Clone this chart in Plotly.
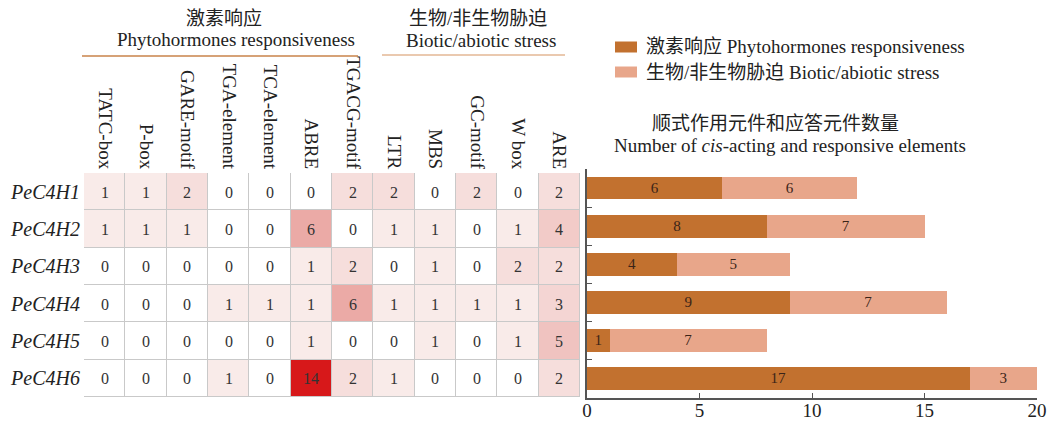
import plotly.graph_objects as go

# cis-acting elements found in the promoters of each PeC4H gene
elements = ["TATC-box", "P-box", "GARE-motif", "TGA-element", "TCA-element", "ABRE",
            "TGACG-motif", "LTR", "MBS", "GC-motif", "W box", "ARE"]
genes = ["PeC4H1", "PeC4H2", "PeC4H3", "PeC4H4", "PeC4H5", "PeC4H6"]

counts_h1 = [1, 1, 2, 0, 0, 0, 2, 2, 0, 2, 0, 2]
counts_h2 = [1, 1, 1, 0, 0, 6, 0, 1, 1, 0, 1, 4]
counts_h3 = [0, 0, 0, 0, 0, 1, 2, 0, 1, 0, 2, 2]
counts_h4 = [0, 0, 0, 1, 1, 1, 6, 1, 1, 1, 1, 3]
counts_h5 = [0, 0, 0, 0, 0, 1, 0, 0, 1, 0, 1, 5]
counts_h6 = [0, 0, 0, 1, 0, 14, 2, 1, 0, 0, 0, 2]

# totals per gene for the stacked bars
hormone_totals = [6, 8, 4, 9, 1, 17]
stress_totals = [6, 7, 5, 7, 7, 3]

W, H = 1053, 422
FONT = "Liberation Serif, 'Noto Sans CJK SC', serif"
DARK = "#c2712f"
LIGHT = "#e8a68a"
TXT = "#222222"


def px_x(v):
    return v / W


def px_y(v):
    return 1 - v / H


matrix = [counts_h1, counts_h2, counts_h3, counts_h4, counts_h5, counts_h6]

# pale pink for low counts, deep red for the maximum
heat_scale = [
    [0.0, "#ffffff"],
    [1 / 14, "#f9ebe9"],
    [2 / 14, "#f6dedc"],
    [3 / 14, "#f4d5d3"],
    [4 / 14, "#f2cbc8"],
    [5 / 14, "#f0c3c0"],
    [6 / 14, "#ebaaa6"],
    [1.0, "#d7181a"],
]

fig = go.Figure()

fig.add_trace(go.Heatmap(
    z=matrix, x=elements, y=genes,
    zmin=0, zmax=14, colorscale=heat_scale,
    showscale=False, xgap=1, ygap=1,
    texttemplate="%{z}", textfont=dict(size=16, color="#333333", family=FONT),
    xaxis="x", yaxis="y", hoverinfo="skip",
))

gene_pos = list(range(len(genes)))
for values, color in ((hormone_totals, DARK), (stress_totals, LIGHT)):
    fig.add_trace(go.Bar(
        x=values, y=gene_pos, orientation="h",
        marker=dict(color=color, line=dict(width=0)),
        text=values, textposition="inside", insidetextanchor="middle", textangle=0,
        textfont=dict(size=17, color="#3a2418", family=FONT),
        xaxis="x2", yaxis="y2", showlegend=False, hoverinfo="skip",
    ))

fig.update_layout(
    template="none",
    width=W, height=H, margin=dict(l=0, r=0, t=0, b=0, pad=0), autosize=False,
    paper_bgcolor="white", plot_bgcolor="white",
    font=dict(family=FONT, color=TXT, size=19),
    barmode="stack", bargap=0.4, showlegend=False,
    xaxis=dict(domain=[px_x(84), px_x(580)], side="top", range=[-0.5, 11.5],
               tickangle=90, tickfont=dict(size=19, color=TXT), ticks="", showgrid=False,
               zeroline=False, showline=False, automargin=False),
    yaxis=dict(domain=[px_y(397), px_y(173)], range=[5.5, -0.5], anchor="x",
               tickfont=dict(size=20, color=TXT, style="italic"), ticks="",
               ticklabelstandoff=3,
               showgrid=False, zeroline=False, showline=False, automargin=False),
    xaxis2=dict(domain=[px_x(587), px_x(1037)], range=[0, 20], anchor="y2",
                tickvals=[0, 5, 10, 15, 20], ticks="inside", ticklen=5, tickcolor="#555",
                showline=True, linecolor="#555", linewidth=1.5, showgrid=False, zeroline=False,
                tickfont=dict(size=19, color=TXT), ticklabelstandoff=-5, automargin=False),
    yaxis2=dict(domain=[px_y(397.5), px_y(169)], range=[5.5, -0.5], anchor="x2",
                tickvals=[-0.5, 0.5, 1.5, 2.5, 3.5, 4.5], ticks="inside", ticklen=5,
                tickcolor="#555", showticklabels=False, showline=True, linecolor="#555",
                linewidth=1.5, showgrid=False, zeroline=False, automargin=False),
)

# grey cell borders showing through the heatmap gaps
fig.add_shape(type="rect", xref="x", yref="y", x0=-0.5, x1=11.5, y0=-0.5, y1=5.5,
              fillcolor="#c9c9c9", line=dict(color="#c9c9c9", width=1), layer="below")

# group headers and the bar chart title
headers = [
    ("激素响应", 224, 18),
    ("Phytohormones responsiveness", 236, 40),
    ("生物/非生物胁迫", 478, 18),
    ("Biotic/abiotic stress", 481, 41),
    ("顺式作用元件和应答元件数量", 775, 124),
    ("Number of <i>cis</i>-acting and responsive elements", 790, 145),
]
for text, cx, cy in headers:
    fig.add_annotation(text=text, x=px_x(cx), y=px_y(cy), xref="paper", yref="paper",
                       xanchor="center", yanchor="middle", showarrow=False,
                       font=dict(size=19, color=TXT, family=FONT))

fig.add_shape(type="line", xref="paper", yref="paper", x0=px_x(82), x1=px_x(358),
              y0=px_y(56), y1=px_y(56), line=dict(color="#c8834a", width=1.5))
fig.add_shape(type="line", xref="paper", yref="paper", x0=px_x(382), x1=px_x(565),
              y0=px_y(55), y1=px_y(55), line=dict(color="#e3b794", width=1.5))

# legend for the stacked bars
legend_items = [
    (DARK, "激素响应 Phytohormones responsiveness", 47),
    (LIGHT, "生物/非生物胁迫 Biotic/abiotic stress", 72),
]
for color, label, cy in legend_items:
    fig.add_shape(type="rect", xref="paper", yref="paper", x0=px_x(615), x1=px_x(637),
                  y0=px_y(cy + 5.5), y1=px_y(cy - 5.5), fillcolor=color, line=dict(width=0))
    fig.add_annotation(text=label, x=px_x(644), y=px_y(cy), xref="paper", yref="paper",
                       xanchor="left", yanchor="middle", showarrow=False,
                       font=dict(size=19, color=TXT, family=FONT))

fig.write_html("out.html")
